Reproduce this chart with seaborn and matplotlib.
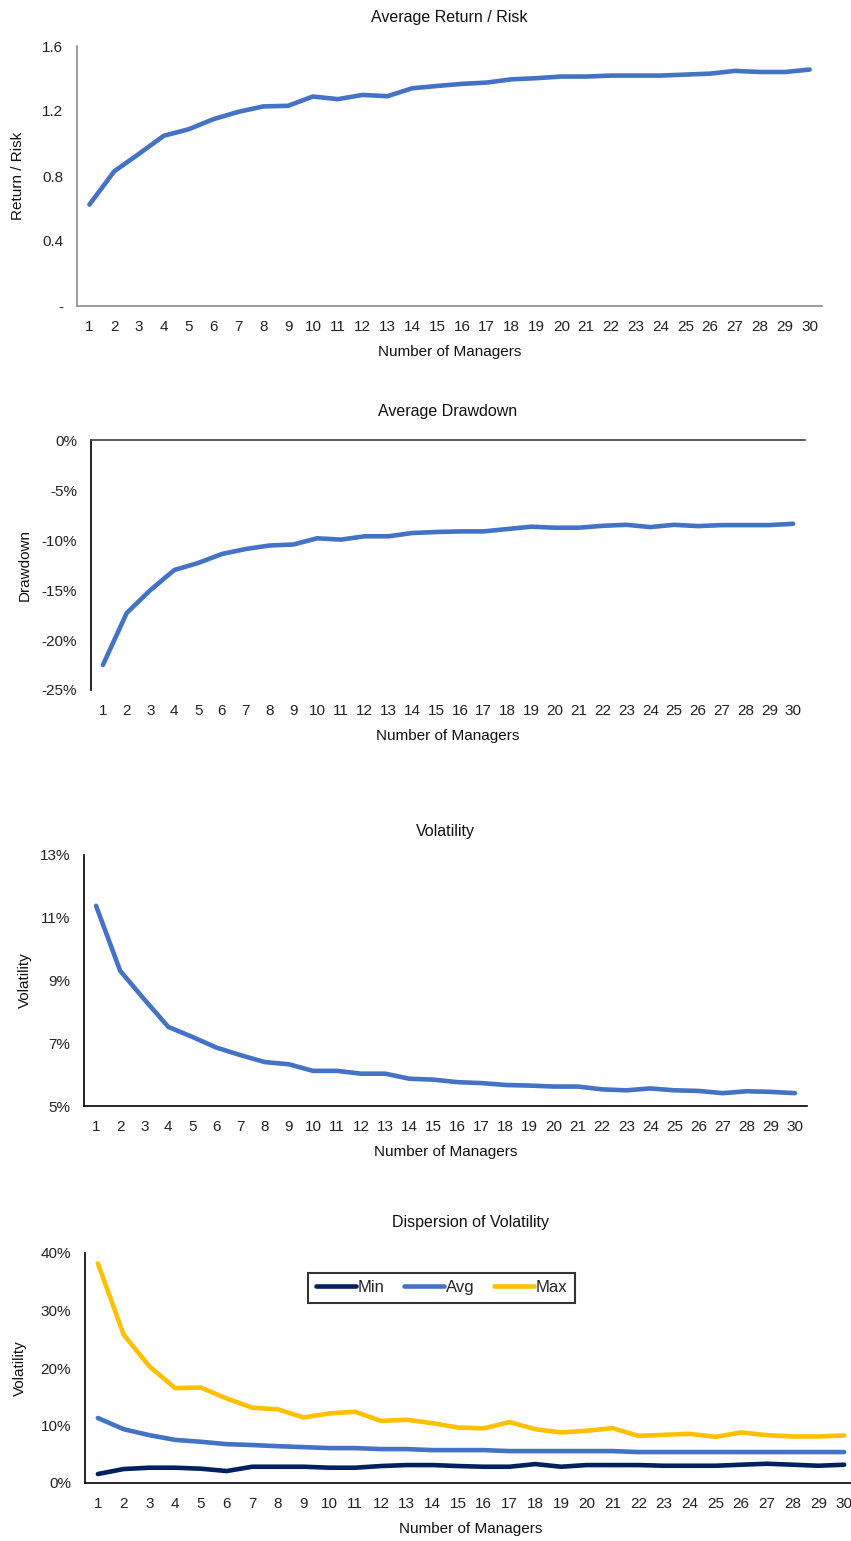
import matplotlib
matplotlib.use("Agg")
import matplotlib.pyplot as plt
import seaborn as sns
from matplotlib.ticker import PercentFormatter, FuncFormatter

# number of managers on the x axis
managers = list(range(1, 31))

# average return / risk
return_risk = [0.624, 0.829, 0.937, 1.048, 1.088, 1.150, 1.195, 1.228, 1.232, 1.289,
               1.273, 1.299, 1.291, 1.340, 1.354, 1.367, 1.375, 1.395, 1.402, 1.412,
               1.412, 1.418, 1.418, 1.418, 1.424, 1.430, 1.447, 1.440, 1.440, 1.455]

# average drawdown (%)
drawdown = [-22.5, -17.3, -15.0, -13.0, -12.3, -11.4, -10.9, -10.55, -10.45, -9.83,
            -9.96, -9.63, -9.63, -9.30, -9.20, -9.14, -9.14, -8.90, -8.67, -8.77,
            -8.77, -8.58, -8.48, -8.71, -8.48, -8.61, -8.51, -8.51, -8.51, -8.38]

# average volatility (%)
volatility = [11.38, 9.31, 8.40, 7.52, 7.20, 6.86, 6.62, 6.40, 6.33, 6.12,
              6.12, 6.03, 6.03, 5.87, 5.84, 5.76, 5.73, 5.67, 5.65, 5.62,
              5.62, 5.53, 5.50, 5.56, 5.50, 5.48, 5.41, 5.47, 5.45, 5.41]

# dispersion of volatility (%)
vol_min = [1.56, 2.43, 2.66, 2.66, 2.49, 2.08, 2.83, 2.83, 2.83, 2.66,
           2.66, 2.95, 3.12, 3.12, 2.95, 2.83, 2.83, 3.29, 2.83, 3.12,
           3.12, 3.12, 3.00, 3.00, 3.00, 3.18, 3.35, 3.18, 3.00, 3.18]
vol_avg = [11.3, 9.36, 8.32, 7.50, 7.17, 6.76, 6.60, 6.40, 6.24, 6.07,
           6.07, 5.90, 5.90, 5.72, 5.72, 5.72, 5.55, 5.55, 5.55, 5.55,
           5.55, 5.38, 5.38, 5.38, 5.38, 5.38, 5.38, 5.38, 5.38, 5.38]
vol_max = [38.2, 25.8, 20.3, 16.5, 16.6, 14.7, 13.1, 12.8, 11.4, 12.1,
           12.4, 10.8, 11.0, 10.4, 9.65, 9.5, 10.6, 9.36, 8.79, 9.08,
           9.54, 8.2, 8.38, 8.55, 8.03, 8.79, 8.32, 8.09, 8.09, 8.27]

BLUE = "#4472C4"
NAVY = "#002060"
GOLD = "#FFC000"
LW = 3.3
W, H = 851, 1541

sns.set_theme(style="white")
plt.rcParams['font.family'] = ['Liberation Sans', 'DejaVu Sans']
plt.rcParams['axes.unicode_minus'] = False

fig = plt.figure(figsize=(W / 100, H / 100), dpi=100)


def make_axes(left, right, top, bottom):
    # pixel box -> figure fractions
    return fig.add_axes([left / W, 1 - bottom / H, (right - left) / W, (bottom - top) / H])


def style(ax, title, ylabel, pad_title, label_x, spine_color="black"):
    ax.set_title(title, fontsize=11.5, color="#111111", pad=pad_title)
    ax.set_xlabel("Number of Managers", fontsize=11, color="#111111", labelpad=8)
    ax.set_ylabel(ylabel, fontsize=11, color="#111111")
    ax.yaxis.set_label_coords(label_x, 0.5)
    ax.set_xlim(0.5, 30.5)
    ax.set_xticks(managers)
    ax.set_xticklabels([str(m) for m in managers])
    ax.tick_params(axis="both", length=0, labelsize=11, colors="#222222")
    ax.tick_params(axis="x", pad=10)
    ax.tick_params(axis="y", pad=10)
    for s in ["top", "right"]:
        ax.spines[s].set_visible(False)
    for s in ["left", "bottom"]:
        ax.spines[s].set_color(spine_color)
        ax.spines[s].set_linewidth(1.2)
    ax.grid(False)


# Panel 1: Average Return / Risk
ax1 = make_axes(77, 822, 46, 306)
sns.lineplot(x=managers, y=return_risk, ax=ax1, color=BLUE, linewidth=LW)
ax1.set_ylim(0, 1.6)
ax1.set_yticks([0, 0.4, 0.8, 1.2, 1.6])
ax1.yaxis.set_major_formatter(FuncFormatter(lambda v, p: "-" if abs(v) < 1e-9 else f"{v:.1f}"))
style(ax1, "Average Return / Risk", "Return / Risk", 17, -0.07, spine_color="#8c8c8c")

# Panel 2: Average Drawdown
ax2 = make_axes(91, 805, 440, 690)
sns.lineplot(x=managers, y=drawdown, ax=ax2, color=BLUE, linewidth=LW)
ax2.set_ylim(-25, 0)
ax2.set_yticks([-25, -20, -15, -10, -5, 0])
ax2.yaxis.set_major_formatter(PercentFormatter(100, decimals=0))
style(ax2, "Average Drawdown", "Drawdown", 17, -0.083)
ax2.spines["bottom"].set_visible(False)
ax2.spines["top"].set_visible(True)
ax2.spines["top"].set_color("#404040")
ax2.spines["top"].set_linewidth(1.2)

# Panel 3: Volatility
ax3 = make_axes(84, 807, 855, 1106)
sns.lineplot(x=managers, y=volatility, ax=ax3, color=BLUE, linewidth=LW)
ax3.set_ylim(5, 13)
ax3.set_yticks([5, 7, 9, 11, 13])
ax3.yaxis.set_major_formatter(PercentFormatter(100, decimals=0))
style(ax3, "Volatility", "Volatility", 14, -0.072)

# Panel 4: Dispersion of Volatility
ax4 = make_axes(85, 857, 1253, 1483)
sns.lineplot(x=managers, y=vol_min, ax=ax4, color=NAVY, linewidth=LW, label="Min")
sns.lineplot(x=managers, y=vol_avg, ax=ax4, color=BLUE, linewidth=LW, label="Avg")
sns.lineplot(x=managers, y=vol_max, ax=ax4, color=GOLD, linewidth=LW, label="Max")
ax4.set_ylim(0, 40)
ax4.set_yticks([0, 10, 20, 30, 40])
ax4.yaxis.set_major_formatter(PercentFormatter(100, decimals=0))
style(ax4, "Dispersion of Volatility", "Volatility", 19, -0.075)
leg = ax4.legend(loc="center", bbox_to_anchor=(0.462, 0.85), ncol=3, fontsize=12,
                 frameon=True, fancybox=False, handlelength=2.4, handletextpad=0.1,
                 columnspacing=1.2, borderpad=0.45)
leg.get_frame().set_edgecolor("black")
leg.get_frame().set_linewidth(1.5)

fig.savefig("out.png", dpi=100)
